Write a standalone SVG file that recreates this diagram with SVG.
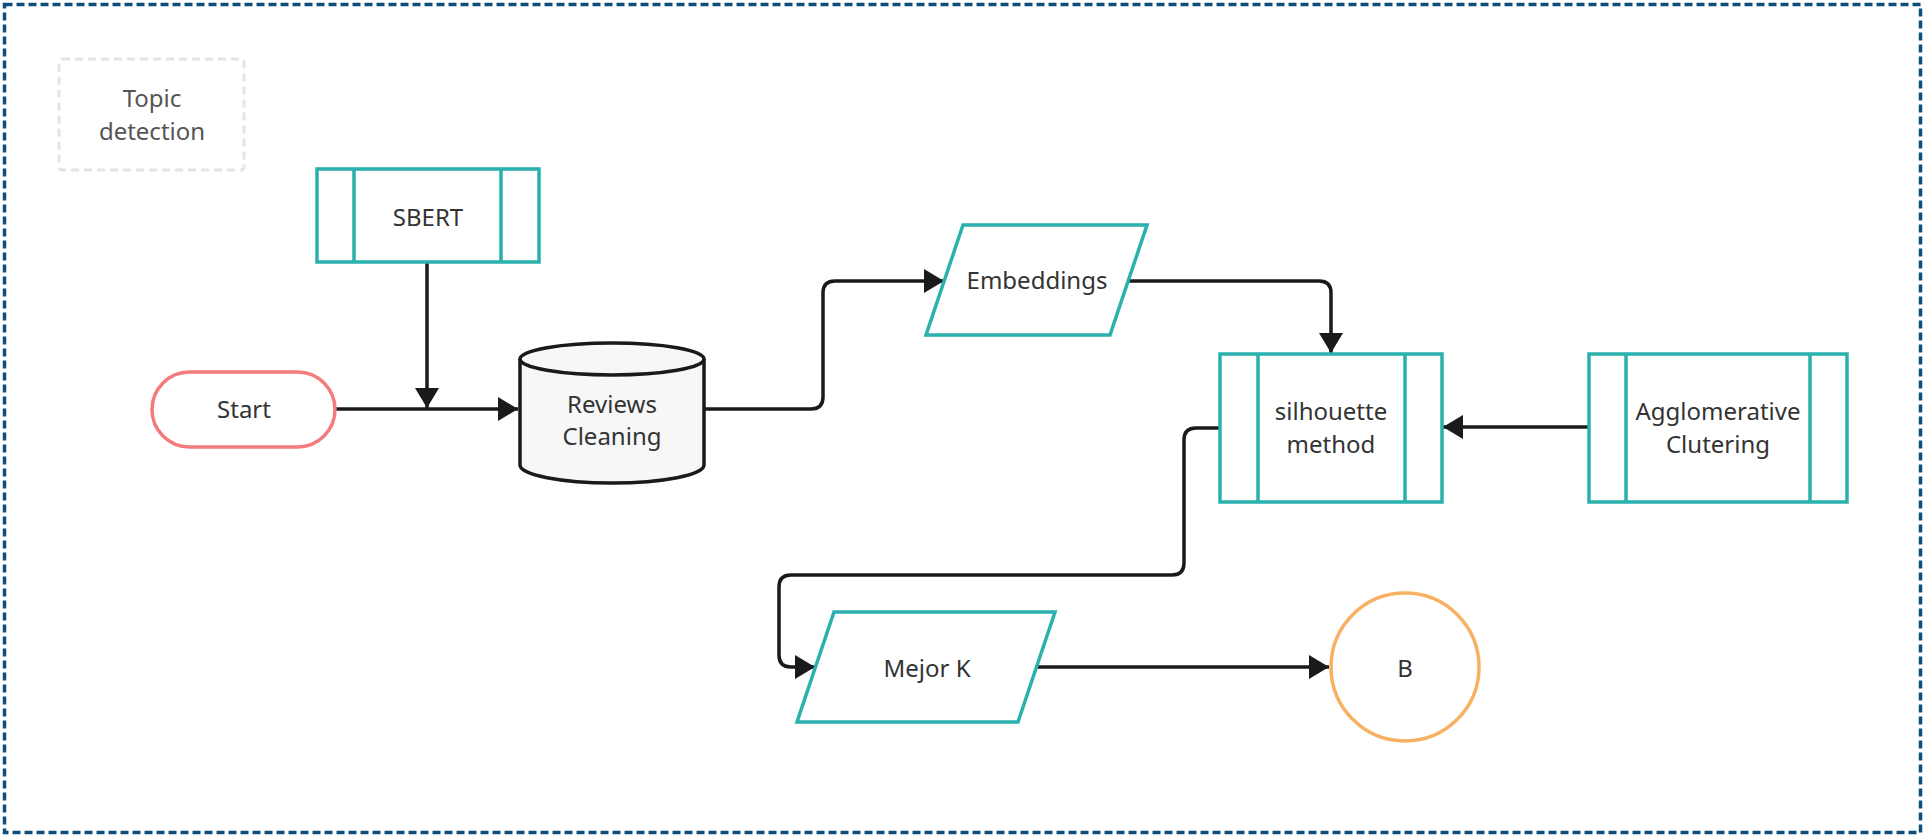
<svg xmlns="http://www.w3.org/2000/svg" width="1926" height="837" viewBox="0 0 1926 837">
<style>
.t{font-family:"Noto Sans","Open Sans",sans-serif;font-size:24px;fill:#333;text-anchor:middle}
.teal{fill:#fff;stroke:#2ab1ad;stroke-width:3.5}
.edge{fill:none;stroke:#1a1a1a;stroke-width:3.5}
</style>
<defs>
<marker id="arr" markerUnits="userSpaceOnUse" markerWidth="22" markerHeight="26" refX="20" refY="12" orient="auto">
<path d="M0,0 L20,12 L0,24 z" fill="#1a1a1a"/>
</marker>
</defs>
<rect x="0" y="0" width="1926" height="837" fill="#fff"/>
<rect id="frame" x="4.5" y="4.5" width="1916" height="828" fill="none" stroke="#0d4f7c" stroke-width="3.5" stroke-dasharray="8 4"/>
<g id="topic">
<rect x="59" y="59" width="185" height="111" rx="3" fill="none" stroke="#e6e3e5" stroke-width="3" stroke-dasharray="8 5"/>
<text class="t" x="152" y="107" style="fill:#555">Topic</text>
<text class="t" x="152" y="140" style="fill:#555">detection</text>
</g>
<g id="connectors">
<path class="edge" d="M335,409 H518" marker-end="url(#arr)"/>
<path class="edge" d="M427,262 V408" marker-end="url(#arr)"/>
<path class="edge" d="M705,409 H811 Q823,409 823,397 V293 Q823,281 835,281 H944" marker-end="url(#arr)"/>
<path class="edge" d="M1129,281 H1319 Q1331,281 1331,293 V353" marker-end="url(#arr)"/>
<path class="edge" d="M1589,427 H1443" marker-end="url(#arr)"/>
<path class="edge" d="M1220,428 H1196 Q1184,428 1184,440 V563 Q1184,575 1172,575 H791 Q779,575 779,587 V655 Q779,667 791,667 H815" marker-end="url(#arr)"/>
<path class="edge" d="M1036,667 H1329" marker-end="url(#arr)"/>
</g>
<g id="sbert">
<rect class="teal" x="317" y="169" width="222" height="93"/>
<line class="teal" x1="354" y1="169" x2="354" y2="262"/>
<line class="teal" x1="501" y1="169" x2="501" y2="262"/>
<text class="t" x="428" y="226">SBERT</text>
</g>
<g id="start">
<rect x="152" y="372" width="183" height="75" rx="37.5" fill="#fff" stroke="#f47b7b" stroke-width="3.5"/>
<text class="t" x="244" y="418">Start</text>
</g>
<g id="reviews">
<path d="M520,359 V465 A92,18 0 0 0 704,465 V359 A92,16 0 0 0 520,359 Z" fill="#f7f7f7" stroke="#1a1a1a" stroke-width="3.5"/>
<path d="M520,359 A92,16 0 0 0 704,359" fill="none" stroke="#1a1a1a" stroke-width="3.5"/>
<text class="t" x="612" y="413">Reviews</text>
<text class="t" x="612" y="445">Cleaning</text>
</g>
<g id="embeddings">
<path class="teal" d="M963,225 H1147 L1110,335 H926 Z"/>
<text class="t" x="1037" y="289">Embeddings</text>
</g>
<g id="silhouette">
<rect class="teal" x="1220" y="354" width="222" height="148"/>
<line class="teal" x1="1258" y1="354" x2="1258" y2="502"/>
<line class="teal" x1="1405" y1="354" x2="1405" y2="502"/>
<text class="t" x="1331" y="420">silhouette</text>
<text class="t" x="1331" y="453">method</text>
</g>
<g id="agglomerative">
<rect class="teal" x="1589" y="354" width="258" height="148"/>
<line class="teal" x1="1626" y1="354" x2="1626" y2="502"/>
<line class="teal" x1="1810" y1="354" x2="1810" y2="502"/>
<text class="t" x="1718" y="420">Agglomerative</text>
<text class="t" x="1718" y="453">Clutering</text>
</g>
<g id="mejork">
<path class="teal" d="M834,612 H1055 L1018,722 H797 Z"/>
<text class="t" x="927" y="677">Mejor K</text>
</g>
<g id="b">
<circle cx="1405" cy="667" r="74" fill="#fff" stroke="#f8b163" stroke-width="3.5"/>
<text class="t" x="1405" y="677">B</text>
</g>
</svg>
